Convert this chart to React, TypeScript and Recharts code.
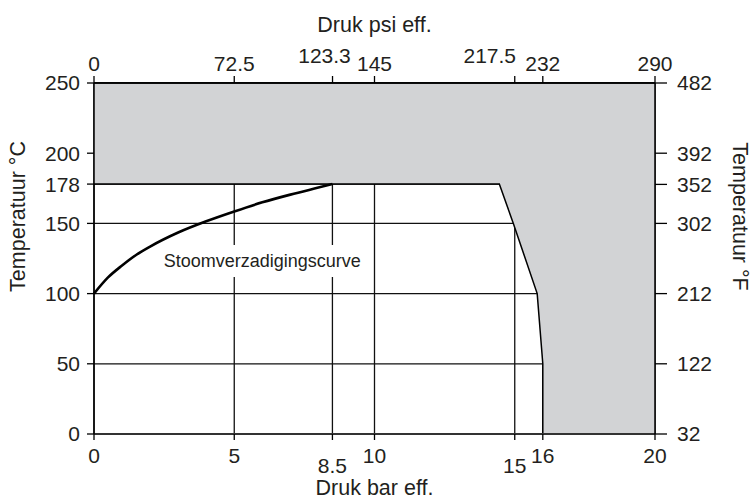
import {
  ComposedChart,
  Area,
  Line,
  XAxis,
  YAxis,
  CartesianGrid,
  ReferenceArea,
} from 'recharts'

// Assen
const BAR_TICKS = [0, 5, 8.5, 10, 15, 16, 20]
const PSI_TICKS = [0, 72.5, 123.3, 145, 217.5, 232, 290]
const C_TICKS = [0, 50, 100, 150, 178, 200, 250]
const F_TICKS = [32, 122, 212, 302, 352, 392, 482]

// Verzadigingscurve (bar eff. -> °C)
const STEAM_BAR = [0, 0.5, 1, 1.5, 2, 3, 4, 5, 6, 7, 8, 8.5]
const STEAM_C = [100, 111.5, 120, 127.5, 133.5, 143.5, 151.5, 158.5, 165, 170.5, 175.5, 178]

// Grijs gebied: onderrand, bovenrand is 250 °C
const GRAY_BAR = [0, 14.45, 14.95, 15.8, 16, 16, 20]
const GRAY_LOW = [178, 178, 150, 100, 50, 0, 0]
const GRAY_TOP = 250

// hoekpunten van de psi/°F-schaal, zodat die assen een bereik hebben
const PSI_RANGE = [0, 290]
const F_RANGE = [32, 482]

const steamData = STEAM_BAR.map((x, i) => ({ x, t: STEAM_C[i] }))
const grayData = GRAY_BAR.map((x, i) => ({ x, range: [GRAY_LOW[i], GRAY_TOP] }))
const imperialData = PSI_RANGE.map((p, i) => ({ p, f: F_RANGE[i] }))

const FONT = '"Liberation Sans", Arial, sans-serif'
const INK = '#231f20'
const TICK_SIZE = 21
const TITLE_SIZE = 21.5

// verschuiving van labels die elkaar anders raken
const BAR_DROP: Record<string, number> = { '8.5': 10, '15': 10 }
const PSI_RAISE: Record<string, [number, number]> = {
  '123.3': [-8, -8],
  '217.5': [-25, -8],
}

function BarTick({ x, y, payload }: any) {
  const drop = BAR_DROP[String(payload.value)] ?? 0
  return (
    <text x={x} y={y + drop} dy="0.71em" textAnchor="middle" fill={INK} fontSize={TICK_SIZE} fontFamily={FONT}>
      {payload.value}
    </text>
  )
}

function PsiTick({ x, y, payload }: any) {
  const [dx, dy] = PSI_RAISE[String(payload.value)] ?? [0, 0]
  return (
    <text x={x + dx} y={y + dy} textAnchor="middle" fill={INK} fontSize={TICK_SIZE} fontFamily={FONT}>
      {payload.value}
    </text>
  )
}

function SideTick({ x, y, payload, anchor }: any) {
  return (
    <text x={x} y={y} dy="0.355em" textAnchor={anchor} fill={INK} fontSize={TICK_SIZE} fontFamily={FONT}>
      {payload.value}
    </text>
  )
}

function AxisTitle({ viewBox, text, side }: any) {
  const { x, y, width, height } = viewBox
  const common = { fill: INK, fontSize: TITLE_SIZE, fontFamily: FONT, textAnchor: 'middle' as const }
  if (side === 'top') {
    return <text x={x + width / 2} y={y + 32} {...common}>{text}</text>
  }
  if (side === 'bottom') {
    return <text x={x + width / 2} y={y + 61} {...common}>{text}</text>
  }
  if (side === 'left') {
    const cx = x + 25
    const cy = y + height / 2 - 42
    return <text x={cx} y={cy} transform={`rotate(-90 ${cx} ${cy})`} {...common}>{text}</text>
  }
  const cx = x + 78
  const cy = y + height / 2 - 42
  return <text x={cx} y={cy} transform={`rotate(90 ${cx} ${cy})`} {...common}>{text}</text>
}

export default function App() {
  return (
    <div style={{ position: 'absolute', left: 0, top: 0, background: '#fff' }}>
      <ComposedChart width={753} height={501} margin={{ top: 0, right: 0, left: 0, bottom: 0 }}>
        <CartesianGrid xAxisId="bar" yAxisId="c" stroke="#111" strokeWidth={1.3} />

        <XAxis
          xAxisId="bar"
          dataKey="x"
          type="number"
          domain={[0, 20]}
          ticks={BAR_TICKS}
          height={67}
          tickSize={6}
          tickMargin={8}
          tick={<BarTick />}
          axisLine={{ stroke: '#333', strokeWidth: 2 }}
          tickLine={{ stroke: '#000', strokeWidth: 1.3 }}
          interval={0}
          label={<AxisTitle side="bottom" text="Druk bar eff." />}
        />
        <XAxis
          xAxisId="psi"
          dataKey="p"
          orientation="top"
          type="number"
          domain={[0, 290]}
          ticks={PSI_TICKS}
          height={83}
          tickSize={7}
          tickMargin={5}
          tick={<PsiTick />}
          axisLine={{ stroke: '#000', strokeWidth: 1.5 }}
          tickLine={{ stroke: '#000', strokeWidth: 1.3 }}
          interval={0}
          label={<AxisTitle side="top" text="Druk psi eff." />}
        />
        <YAxis
          yAxisId="c"
          type="number"
          domain={[0, 250]}
          ticks={C_TICKS}
          width={94}
          tickSize={7}
          tickMargin={7}
          tick={<SideTick anchor="end" />}
          axisLine={{ stroke: '#000', strokeWidth: 1.5 }}
          tickLine={{ stroke: '#000', strokeWidth: 1.3 }}
          interval={0}
          label={<AxisTitle side="left" text="Temperatuur °C" />}
        />
        <YAxis
          yAxisId="f"
          orientation="right"
          type="number"
          domain={[32, 482]}
          ticks={F_TICKS}
          width={98}
          tickSize={12}
          tickMargin={10}
          tick={<SideTick anchor="start" />}
          axisLine={{ stroke: '#000', strokeWidth: 1.5 }}
          tickLine={{ stroke: '#000', strokeWidth: 1.3 }}
          interval={0}
          label={<AxisTitle side="right" text="Temperatuur °F" />}
        />

        <ReferenceArea
          xAxisId="bar"
          yAxisId="c"
          x1={2.3}
          x2={9.7}
          y1={111.8}
          y2={134.6}
          fill="#fff"
          fillOpacity={1}
          stroke="none"
          label={{ value: 'Stoomverzadigingscurve', position: 'center', fill: INK, fontSize: 18, fontFamily: FONT }}
        />

        <Area
          xAxisId="bar"
          yAxisId="c"
          data={grayData}
          dataKey="range"
          type="linear"
          fill="#d2d3d5"
          fillOpacity={1}
          stroke="#000"
          strokeWidth={1.5}
          dot={false}
          activeDot={false}
          isAnimationActive={false}
        />

        {/* onzichtbare reeks die de psi- en °F-as aanstuurt */}
        <Line
          xAxisId="psi"
          yAxisId="f"
          data={imperialData}
          dataKey="f"
          stroke="none"
          dot={false}
          activeDot={false}
          isAnimationActive={false}
        />

        <Line
          xAxisId="bar"
          yAxisId="c"
          data={steamData}
          dataKey="t"
          type="monotone"
          stroke="#000"
          strokeWidth={2.6}
          dot={false}
          activeDot={false}
          isAnimationActive={false}
        />
      </ComposedChart>
    </div>
  )
}
